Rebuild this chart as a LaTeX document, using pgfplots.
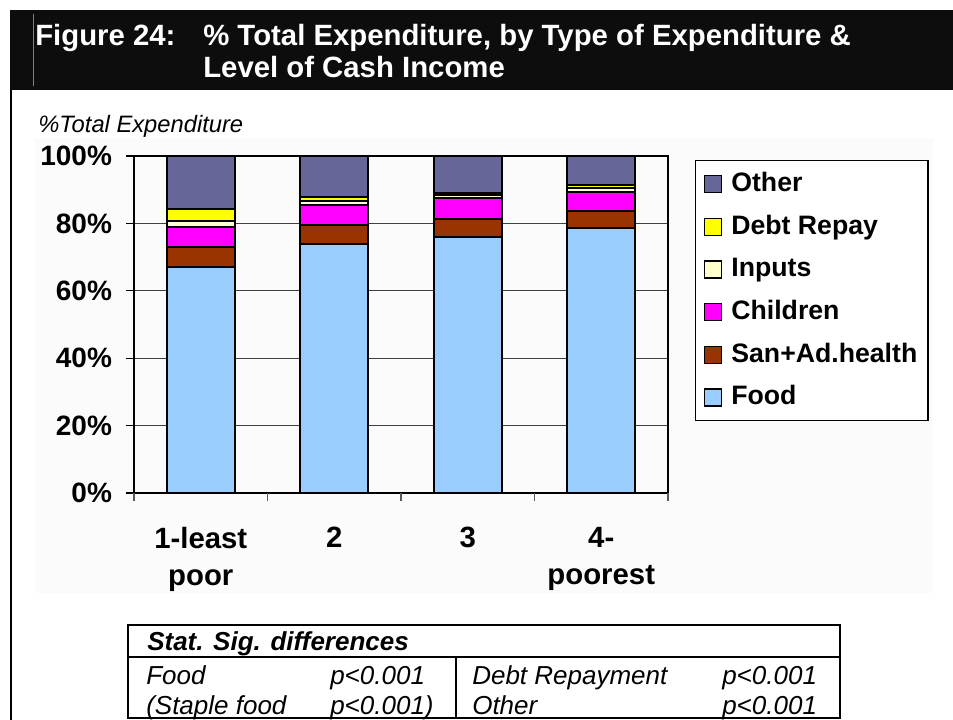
\documentclass[border=0pt]{standalone}
\usepackage{pgfplots}
\pgfplotsset{compat=1.18}
\usepackage{fontspec}
\setmainfont{Liberation Sans}
\definecolor{cFood}{HTML}{99CCFF}
\definecolor{cSan}{HTML}{993300}
\definecolor{cChild}{HTML}{FF00FF}
\definecolor{cInp}{HTML}{FFFFCC}
\definecolor{cDebt}{HTML}{FFFF00}
\definecolor{cOther}{HTML}{666699}
\begin{document}
\begin{tikzpicture}[x=0.75pt,y=-0.75pt]
\useasboundingbox (0,0) rectangle (953,720);
\fill[black!95] (10,10) rectangle (953,90);
\draw[gray, line width=0.6pt] (33,14) -- (33,86);
\draw[line width=1.5pt] (11,90) -- (11,720);
\fill[gray!3] (35,138) rectangle (933,593);
\node[anchor=base west, inner sep=0, text=white, font=\fontsize{22}{26}\selectfont\bfseries] at (35,46) {Figure 24:};
\node[anchor=base west, inner sep=0, text=white, font=\fontsize{22}{26}\selectfont\bfseries] at (203,46) {\% Total Expenditure, by Type of Expenditure \&};
\node[anchor=base west, inner sep=0, text=white, font=\fontsize{22}{26}\selectfont\bfseries] at (203,78) {Level of Cash Income};
\node[anchor=base west, inner sep=0, font=\fontsize{17.8}{20}\selectfont\itshape] at (38,133) {\%Total Expenditure};
\begin{axis}[
  at={(100.5pt,-369.75pt)}, anchor=south west,
  scale only axis, width=400.5pt, height=252.75pt,
  ybar stacked, bar width=51pt,
  xmin=-0.5, xmax=3.5, ymin=0, ymax=100,
  axis line style={line width=1.5pt},
  xtick pos=bottom, ytick pos=left,
  ytick={0,20,40,60,80,100},
  yticklabels={0\%,20\%,40\%,60\%,80\%,100\%},
  yticklabel style={font=\fontsize{21}{24}\selectfont\bfseries, xshift=-7pt},
  ytick style={black, line width=1pt},
  tick align=outside, major tick length=6pt,
  ymajorgrids, grid style={black!75, line width=0.8pt},
  xtick={0,1,2,3},
  xticklabels={1-least\\poor, 2, 3, 4-\\poorest},
  xticklabel style={align=center, font=\fontsize{22}{28}\selectfont\bfseries, yshift=-16pt},
  x tick style={draw=none},
  extra x ticks={-0.5,0.5,1.5,2.5,3.5},
  extra x tick labels={},
  extra x tick style={grid=none, x tick style={draw=gray!70!black, line width=1pt}, major tick length=6pt},
  legend style={at={(1.0506,0.988)}, anchor=north west, draw=black, line width=1pt, fill=white,
    font=\fontsize{20}{24}\selectfont\bfseries, row sep=9pt, inner xsep=6pt, inner ysep=6pt,
    nodes={inner sep=2pt, text height=15pt, text depth=4pt},
    /tikz/every odd column/.append style={column sep=5pt}},
  legend cell align=left, reverse legend,
  legend image code/.code={\draw[#1, line width=1pt] (0pt,-6.4pt) rectangle (12.75pt,6.4pt);},
  every axis plot/.append style={draw=black, line width=1.5pt},
]
\addplot[fill=cFood] coordinates {(0,67.2) (1,73.9) (2,75.9) (3,78.7)};
\addplot[fill=cSan] coordinates {(0,5.9) (1,5.6) (2,5.3) (3,5.0)};
\addplot[fill=cChild] coordinates {(0,5.9) (1,6.0) (2,6.2) (3,5.7)};
\addplot[fill=cInp] coordinates {(0,1.8) (1,1.0) (2,0.9) (3,1.1)};
\addplot[fill=cDebt] coordinates {(0,3.4) (1,1.4) (2,0.8) (3,1.0)};
\addplot[fill=cOther] coordinates {(0,15.8) (1,12.1) (2,10.9) (3,8.5)};
\legend{Food, San+Ad.health, Children, Inputs, Debt Repay, Other}
\end{axis}
\draw[line width=1.5pt] (128,625) rectangle (840,718);
\draw[line width=1.5pt] (128,657) -- (840,657);
\draw[line width=1.5pt] (456,657) -- (456,718);
\begin{scope}[every node/.style={anchor=base west, inner sep=0, font=\fontsize{19.5}{22}\selectfont\itshape}]
\node[font=\fontsize{19.5}{22}\selectfont\bfseries\itshape] at (147,650) {Stat. Sig. differences};
\node at (146,684) {Food};
\node at (330,684) {p<0.001};
\node at (472,684) {Debt Repayment};
\node at (722,684) {p<0.001};
\node at (146,714) {(Staple food};
\node at (330,714) {p<0.001)};
\node at (472,714) {Other};
\node at (722,714) {p<0.001};
\end{scope}
\end{tikzpicture}
\end{document}
